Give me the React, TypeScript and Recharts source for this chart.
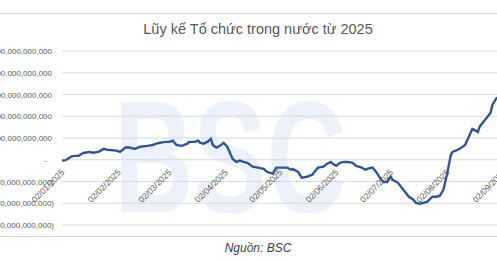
import React from "react";
import { CartesianGrid, Line, LineChart, XAxis, YAxis } from "recharts";

// days counted from 02/01/2025, values in trillion VND (cumulative net)
const DAYS = [
  0, 2, 5, 7, 9, 12, 13, 15, 17, 20, 23, 25, 30, 32, 35, 37, 40, 43, 47, 50,
  52, 54, 57, 59, 61, 63, 66, 69, 70, 73, 75, 76, 78, 80, 82, 83, 85, 87, 89,
  91, 93, 94, 96, 98, 100, 102, 105, 108, 111, 113, 116, 118, 121, 124, 126,
  127, 130, 132, 135, 138, 139, 141, 144, 146, 148, 149, 151, 153, 155, 157,
  160, 162, 165, 167, 168, 171, 173, 175, 177, 179, 181, 182, 185, 188, 191,
  193, 195, 197, 201, 204, 206, 208, 210, 212, 214, 215, 218, 220, 222, 225,
  226, 229, 230, 232, 234, 236, 237, 239, 241,
];
const VALUES = [
  -0.2, -0.1, 0.7, 0.9, 0.9, 1.6, 1.6, 1.8, 1.6, 1.8, 2.5, 2.3, 2.1, 1.8, 2.8,
  2.8, 2.5, 3.0, 3.2, 3.4, 3.7, 3.9, 4.1, 4.1, 4.4, 3.4, 3.2, 3.7, 4.1, 4.1,
  4.4, 3.9, 3.7, 4.1, 4.8, 3.4, 2.8, 3.2, 3.9, 3.0, 1.1, 0.2, -0.5, -0.2, -0.5,
  -0.7, -1.6, -1.8, -2.1, -2.8, -3.2, -1.8, -1.8, -1.8, -2.3, -2.1, -2.8, -4.1,
  -3.9, -3.4, -2.8, -1.8, -1.6, -0.9, -0.5, -0.9, -1.4, -0.7, -0.5, -0.5, -0.7,
  -1.4, -1.8, -2.3, -2.1, -1.8, -2.8, -4.1, -5.1, -5.1, -3.9, -4.6, -5.3, -6.9,
  -8.5, -9.0, -9.9, -10.1, -9.7, -8.5, -8.5, -8.3, -6.9, -3.4, 0.9, 1.8, 2.3,
  2.8, 3.4, 6.2, 7.1, 6.4, 7.6, 8.7, 9.7, 10.8, 12.6, 14.0, 14.7,
];

const X_TICKS = [0, 31, 59, 90, 120, 151, 181, 212, 243];
const X_LABELS = [
  "02/01/2025",
  "02/02/2025",
  "02/03/2025",
  "02/04/2025",
  "02/05/2025",
  "02/06/2025",
  "02/07/2025",
  "02/08/2025",
  "02/09/2025",
];
const Y_TICKS = [-15, -10, -5, 0, 5, 10, 15, 20, 25];

const data = DAYS.map((d, i) => ({ day: d, value: VALUES[i] }));

const fmt = (v: number) => {
  if (v === 0) return "-";
  const s = Math.abs(v * 1e12).toLocaleString("en-US");
  return v < 0 ? `(${s})` : s;
};

const YTick = (props: any) => {
  const { x, y, payload } = props;
  const v = payload.value;
  const dx = v === 0 ? -7 : v > 0 ? -2 : 0;
  return (
    <text
      x={x + dx}
      y={y}
      dy={3}
      textAnchor="end"
      fontSize={8}
      fill="#595959"
      fontFamily="Liberation Sans, Arial, sans-serif"
    >
      {fmt(v)}
    </text>
  );
};

const XTick = (props: any) => {
  const { x, y, payload } = props;
  const idx = X_TICKS.indexOf(payload.value);
  return (
    <text
      transform={`translate(${x + 3},${y - 60}) rotate(-45)`}
      textAnchor="end"
      fontSize={8.5}
      fill="#595959"
      fontFamily="Liberation Sans, Arial, sans-serif"
    >
      {X_LABELS[idx]}
    </text>
  );
};

export default function App() {
  return (
    <div
      style={{
        position: "absolute",
        left: 0,
        top: 0,
        width: 497,
        height: 261,
        overflow: "hidden",
        background: "#fff",
        fontFamily: "Liberation Sans, Arial, sans-serif",
      }}
    >
      <div
        style={{
          position: "absolute",
          left: -2,
          top: 13,
          width: 510,
          height: 222,
          border: "1px solid #d9d9d9",
        }}
      />
      <svg
        width={497}
        height={261}
        style={{ position: "absolute", left: 0, top: 0 }}
      >
        <text
          transform="translate(230,212) scale(1,1.45)"
          textAnchor="middle"
          fontSize={110}
          fontWeight="bold"
          fill="#edf2fa"
          fontFamily="Liberation Sans, Arial, sans-serif"
        >
          BSC
        </text>
      </svg>
      <div
        style={{
          position: "absolute",
          left: 0,
          width: 516,
          top: 21,
          textAlign: "center",
          fontSize: 14.5,
          color: "#595959",
        }}
      >
        Lũy kế Tổ chức trong nước từ 2025
      </div>
      <div style={{ position: "absolute", left: 0, top: 0 }}>
        <LineChart
          width={520}
          height={240}
          data={data}
          margin={{ top: 51, right: 4, bottom: 0, left: 0 }}
        >
          <CartesianGrid vertical={false} stroke="#d9d9d9" />
          <XAxis
            dataKey="day"
            type="number"
            domain={[0, 250]}
            ticks={X_TICKS}
            tick={<XTick />}
            axisLine={false}
            tickLine={false}
            interval={0}
            height={15}
          />
          <YAxis
            type="number"
            domain={[-15, 25]}
            ticks={Y_TICKS}
            tick={<YTick />}
            axisLine={false}
            tickLine={false}
            width={62}
            interval={0}
          />
          <Line
            type="linear"
            dataKey="value"
            stroke="#2f5597"
            strokeWidth={2.4}
            dot={false}
            isAnimationActive={false}
          />
        </LineChart>
      </div>
      <div
        style={{
          position: "absolute",
          left: 0,
          width: 516,
          top: 241,
          textAlign: "center",
          fontSize: 12,
          lineHeight: "14px",
          fontStyle: "italic",
          color: "#404040",
        }}
      >
        Nguồn: BSC
      </div>
    </div>
  );
}
